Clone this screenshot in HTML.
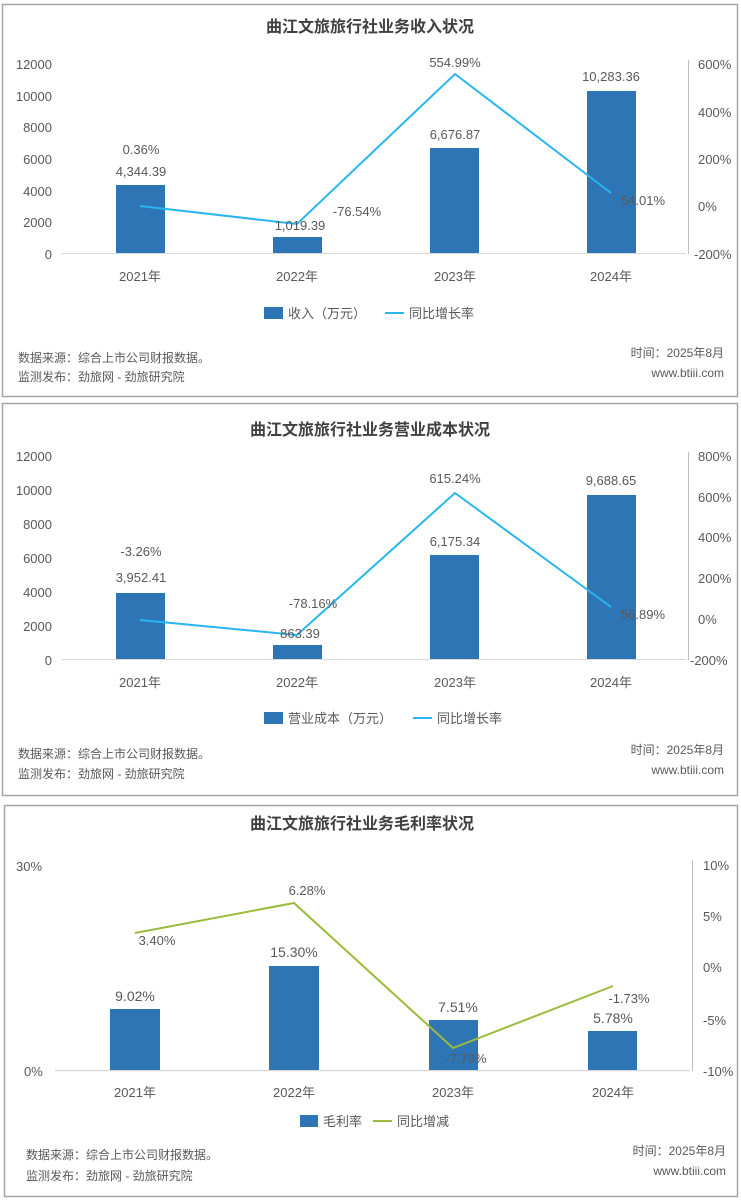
<!DOCTYPE html>
<html><head><meta charset="utf-8"><style>
html,body{margin:0;padding:0;background:#fff}
svg{display:block}
text{font-family:"Liberation Sans","Noto Sans CJK SC",sans-serif;fill:#595959}
.t{font-size:16px;font-weight:bold;fill:#404040}
.a{font-size:13px}
.l{font-size:13px;fill:#404040}
.f{font-size:12px;fill:#595959}
</style></head><body>
<svg width="741" height="1200" viewBox="0 0 741 1200">
<rect x="2.5" y="4.5" width="735" height="392" fill="none" stroke="#a6a6a6" stroke-width="1.5"/>
<rect x="2.5" y="403.5" width="735" height="392" fill="none" stroke="#a6a6a6" stroke-width="1.5"/>
<rect x="4.5" y="805.5" width="733" height="391" fill="none" stroke="#a6a6a6" stroke-width="1.5"/>

<!-- Panel 1 -->
<text class="t" x="370" y="32" text-anchor="middle">曲江文旅旅行社业务收入状况</text>
<g class="a" text-anchor="end">
<text x="52" y="69">12000</text><text x="52" y="101">10000</text><text x="52" y="132">8000</text><text x="52" y="164">6000</text><text x="52" y="196">4000</text><text x="52" y="227">2000</text><text x="52" y="259">0</text>
</g>
<g class="a"><text x="698" y="69">600%</text><text x="698" y="117">400%</text><text x="698" y="164">200%</text><text x="698" y="211">0%</text><text x="694" y="259">-200%</text></g>
<line x1="62" y1="253.5" x2="686" y2="253.5" stroke="#d9d9d9"/>
<line x1="688.5" y1="60" x2="688.5" y2="254" stroke="#bfbfbf"/>
<g fill="#2e75b6"><rect x="116" y="185" width="49" height="68"/><rect x="273" y="237" width="49" height="16"/><rect x="430" y="148" width="49" height="105"/><rect x="587" y="91" width="49" height="162"/></g>
<polyline points="140,206 297,224 455,74 611,193" fill="none" stroke="#29b6f0" stroke-width="2"/>
<g class="l" text-anchor="middle">
<text x="141" y="154">0.36%</text><text x="141" y="176">4,344.39</text><text x="300" y="230">1,019.39</text><text x="357" y="216">-76.54%</text><text x="455" y="139">6,676.87</text><text x="455" y="67">554.99%</text><text x="611" y="81">10,283.36</text><text x="643" y="205">54.01%</text>
</g>
<g class="a" text-anchor="middle"><text x="140" y="281">2021年</text><text x="297" y="281">2022年</text><text x="455" y="281">2023年</text><text x="611" y="281">2024年</text></g>
<rect x="264" y="307" width="19" height="12" fill="#2e75b6"/><text class="a" x="288" y="318">收入（万元）</text>
<line x1="385" y1="313" x2="404" y2="313" stroke="#29b6f0" stroke-width="2"/><text class="a" x="409" y="318">同比增长率</text>
<text class="f" x="18" y="362">数据来源：综合上市公司财报数据。</text>
<text class="f" x="18" y="381">监测发布：劲旅网 - 劲旅研究院</text>
<text class="f" x="724" y="357" text-anchor="end">时间：2025年8月</text>
<text class="f" x="724" y="377" text-anchor="end">www.btiii.com</text>

<!-- Panel 2 -->
<text class="t" x="370" y="435" text-anchor="middle">曲江文旅旅行社业务营业成本状况</text>
<g class="a" text-anchor="end">
<text x="52" y="461">12000</text><text x="52" y="495">10000</text><text x="52" y="529">8000</text><text x="52" y="563">6000</text><text x="52" y="597">4000</text><text x="52" y="631">2000</text><text x="52" y="665">0</text>
</g>
<g class="a"><text x="698" y="461">800%</text><text x="698" y="502">600%</text><text x="698" y="542">400%</text><text x="698" y="583">200%</text><text x="698" y="624">0%</text><text x="690" y="665">-200%</text></g>
<line x1="62" y1="659.5" x2="686" y2="659.5" stroke="#d9d9d9"/>
<line x1="688.5" y1="452" x2="688.5" y2="660" stroke="#bfbfbf"/>
<g fill="#2e75b6"><rect x="116" y="593" width="49" height="66"/><rect x="273" y="645" width="49" height="14"/><rect x="430" y="555" width="49" height="104"/><rect x="587" y="495" width="49" height="164"/></g>
<polyline points="140,620 297,635 455,493 611,607" fill="none" stroke="#29b6f0" stroke-width="2"/>
<g class="l" text-anchor="middle">
<text x="141" y="556">-3.26%</text><text x="141" y="582">3,952.41</text><text x="313" y="608">-78.16%</text><text x="300" y="638">863.39</text><text x="455" y="483">615.24%</text><text x="455" y="546">6,175.34</text><text x="611" y="485">9,688.65</text><text x="643" y="619">56.89%</text>
</g>
<g class="a" text-anchor="middle"><text x="140" y="687">2021年</text><text x="297" y="687">2022年</text><text x="455" y="687">2023年</text><text x="611" y="687">2024年</text></g>
<rect x="264" y="712" width="19" height="12" fill="#2e75b6"/><text class="a" x="288" y="723">营业成本（万元）</text>
<line x1="413" y1="718" x2="432" y2="718" stroke="#29b6f0" stroke-width="2"/><text class="a" x="437" y="723">同比增长率</text>
<text class="f" x="18" y="758">数据来源：综合上市公司财报数据。</text>
<text class="f" x="18" y="778">监测发布：劲旅网 - 劲旅研究院</text>
<text class="f" x="724" y="754" text-anchor="end">时间：2025年8月</text>
<text class="f" x="724" y="774" text-anchor="end">www.btiii.com</text>

<!-- Panel 3 -->
<text class="t" x="362" y="829" text-anchor="middle">曲江文旅旅行社业务毛利率状况</text>
<text class="a" x="16" y="871">30%</text><text class="a" x="24" y="1076">0%</text>
<g class="a"><text x="703" y="870">10%</text><text x="703" y="921">5%</text><text x="703" y="972">0%</text><text x="703" y="1025">-5%</text><text x="703" y="1076">-10%</text></g>
<line x1="55" y1="1070.5" x2="690" y2="1070.5" stroke="#d9d9d9" stroke-width="1.5"/>
<line x1="692.5" y1="860" x2="692.5" y2="1071" stroke="#bfbfbf"/>
<g fill="#2e75b6"><rect x="110" y="1009" width="50" height="61"/><rect x="269" y="966" width="50" height="104"/><rect x="429" y="1020" width="49" height="50"/><rect x="588" y="1031" width="49" height="39"/></g>
<polyline points="135,933 294,903 453,1048 613,986" fill="none" stroke="#9bbb3b" stroke-width="2"/>
<g class="l" text-anchor="middle" style="font-size:14px">
<text x="135" y="1001">9.02%</text><text x="294" y="957">15.30%</text><text x="458" y="1012">7.51%</text><text x="613" y="1023">5.78%</text>
</g>
<g class="l" text-anchor="middle" style="fill:#a9c460">
<text x="157" y="945">3.40%</text><text x="307" y="895">6.28%</text><text x="466" y="1063">-7.79%</text><text x="629" y="1003">-1.73%</text>
</g>
<g class="a" text-anchor="middle"><text x="135" y="1097">2021年</text><text x="294" y="1097">2022年</text><text x="453" y="1097">2023年</text><text x="613" y="1097">2024年</text></g>
<rect x="300" y="1115" width="18" height="12" fill="#2e75b6"/><text class="a" x="323" y="1126">毛利率</text>
<line x1="373" y1="1121" x2="392" y2="1121" stroke="#9bbb3b" stroke-width="2"/><text class="a" x="397" y="1126">同比增减</text>
<text class="f" x="26" y="1159">数据来源：综合上市公司财报数据。</text>
<text class="f" x="26" y="1180">监测发布：劲旅网 - 劲旅研究院</text>
<text class="f" x="726" y="1155" text-anchor="end">时间：2025年8月</text>
<text class="f" x="726" y="1175" text-anchor="end">www.btiii.com</text>
</svg>
</body></html>
